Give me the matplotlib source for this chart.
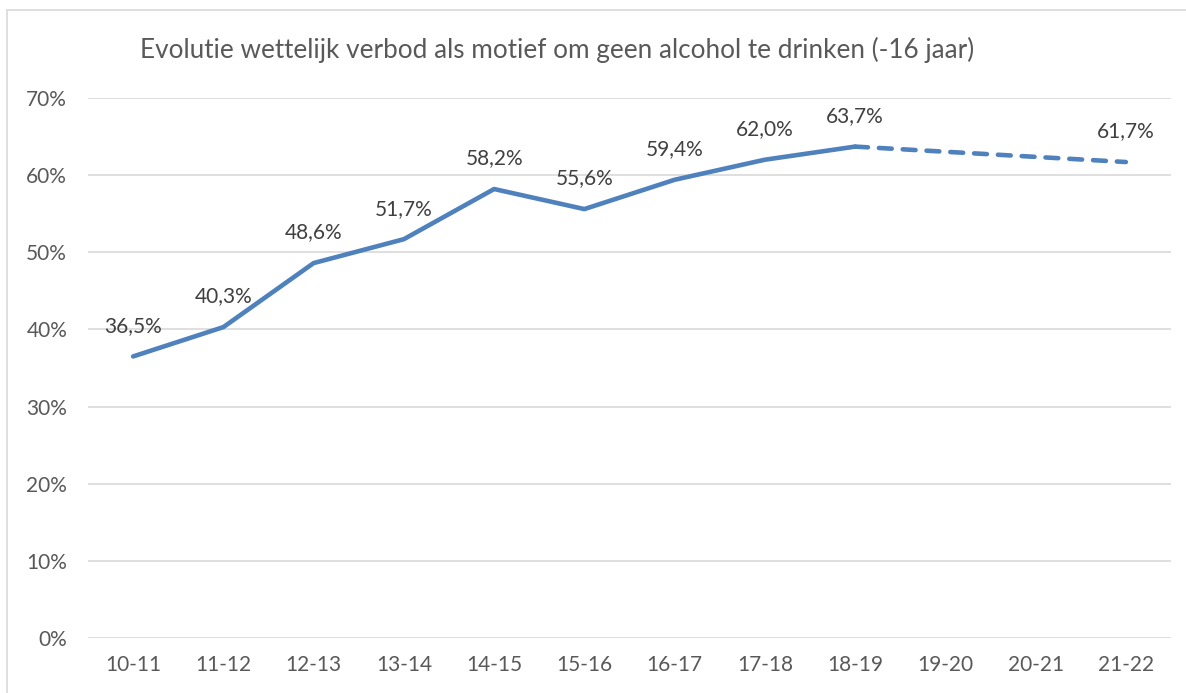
import matplotlib.pyplot as plt
from matplotlib.patches import Rectangle
from matplotlib.ticker import PercentFormatter

plt.rcParams['font.family'] = ['Lato', 'DejaVu Sans']

years = ['10-11', '11-12', '12-13', '13-14', '14-15', '15-16',
         '16-17', '17-18', '18-19', '19-20', '20-21', '21-22']
# values in %, 19-20 and 20-21 not measured
solid_idx = [0, 1, 2, 3, 4, 5, 6, 7, 8]
solid_vals = [36.5, 40.3, 48.6, 51.7, 58.2, 55.6, 59.4, 62.0, 63.7]
dashed_idx = [8, 11]
dashed_vals = [63.7, 61.7]
label_idx = solid_idx + [11]
label_vals = solid_vals + [61.7]

blue = '#4f81bd'
grey_text = '#595959'

fig = plt.figure(figsize=(11.86, 6.93), dpi=100)
ax = fig.add_axes([88 / 1186, 1 - 638 / 693, (1171 - 88) / 1186, 540 / 693])

ax.plot(solid_idx, solid_vals, color=blue, lw=3.3, solid_capstyle='round',
        solid_joinstyle='round')
ax.plot(dashed_idx, dashed_vals, color=blue, lw=3.3, dashes=(2.8, 2.4),
        dash_capstyle='round')

for i, v in zip(label_idx, label_vals):
    ax.annotate(f'{v:.1f}%'.replace('.', ','), (i, v), xytext=(0, 22),
                textcoords='offset points', ha='center', va='center',
                fontsize=15, color='#404040')

ax.set_xlim(-0.5, 11.5)
ax.set_ylim(0, 70)
ax.set_yticks(range(0, 71, 10))
ax.yaxis.set_major_formatter(PercentFormatter(decimals=0))
ax.set_xticks(range(len(years)))
ax.set_xticklabels(years)
ax.grid(axis='y', color='#d9d9d9', lw=1.2)
ax.set_axisbelow(True)
for s in ax.spines.values():
    s.set_visible(False)
ax.tick_params(length=0, labelsize=15, labelcolor=grey_text)
ax.tick_params(axis='y', pad=15)
ax.tick_params(axis='x', pad=12)

fig.text(140 / 1186, 1 - 50 / 693,
         'Evolutie wettelijk verbod als motief om geen alcohol te drinken (-16 jaar)',
         ha='left', va='center', fontsize=18.8, color=grey_text)

fig.patches.append(Rectangle((7 / 1186, -0.1), 2, 1.1 - 10 / 693,
                             transform=fig.transFigure, fill=False,
                             edgecolor='#d9d9d9', lw=1.2))

fig.savefig('out.png', dpi=100)
